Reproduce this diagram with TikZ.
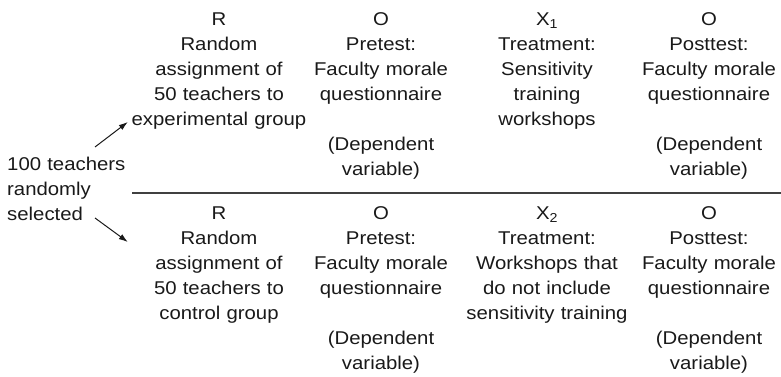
\documentclass[tikz,border=0pt]{standalone}
\usepackage{fontspec}
\setmainfont{Liberation Sans}[FakeStretch=1.1]
\usetikzlibrary{arrows.meta,positioning,calc}

\begin{document}
\begin{tikzpicture}[x=1pt, y=-1pt,
  cell/.style={text width=180pt, align=center, inner sep=0pt, anchor=base, text=black!90, font=\fontsize{18.5}{25}\selectfont},
  source/.style={text width=130pt, align=left, inner sep=0pt, anchor=base west, text=black!90, font=\fontsize{18.5}{25}\selectfont},
  line/.style={draw=black!90, -{Latex[length=9pt, width=6pt]}, line width=1pt}]
  \useasboundingbox (0,0) rectangle (781,377);

  % experimental group
  \node [cell] (rA) at (219,26) {R\\ Random\\ assignment of\\ 50 teachers to\\ experimental group};
  \node [cell] (oA) at (381,26) {O\\ Pretest:\\ Faculty morale\\ questionnaire\\[25pt] (Dependent\\ variable)};
  \node [cell] (xA) at (547,26) {X\textsubscript{1}\\ Treatment:\\ Sensitivity\\ training\\ workshops};
  \node [cell] (pA) at (709,26) {O\\ Posttest:\\ Faculty morale\\ questionnaire\\[25pt] (Dependent\\ variable)};

  % control group
  \node [cell] (rB) at (219,219) {R\\ Random\\ assignment of\\ 50 teachers to\\ control group};
  \node [cell] (oB) at (381,219) {O\\ Pretest:\\ Faculty morale\\ questionnaire\\[25pt] (Dependent\\ variable)};
  \node [cell] (xB) at (547,219) {X\textsubscript{2}\\ Treatment:\\ Workshops that\\ do not include\\ sensitivity training};
  \node [cell] (pB) at (709,219) {O\\ Posttest:\\ Faculty morale\\ questionnaire\\[25pt] (Dependent\\ variable)};

  \node [source] (sample) at (7,170) {100 teachers\\ randomly\\ selected};

  \draw [black!75, line width=1.2pt] (132,193) -- (781,193);

  \path [line] ([shift={(88,-23)}]sample.base west) -- ([shift={(-1,96)}]rA.base west);
  \path [line] ([shift={(88,48)}]sample.base west) -- ([shift={(-1,23)}]rB.base west);
\end{tikzpicture}
\end{document}
